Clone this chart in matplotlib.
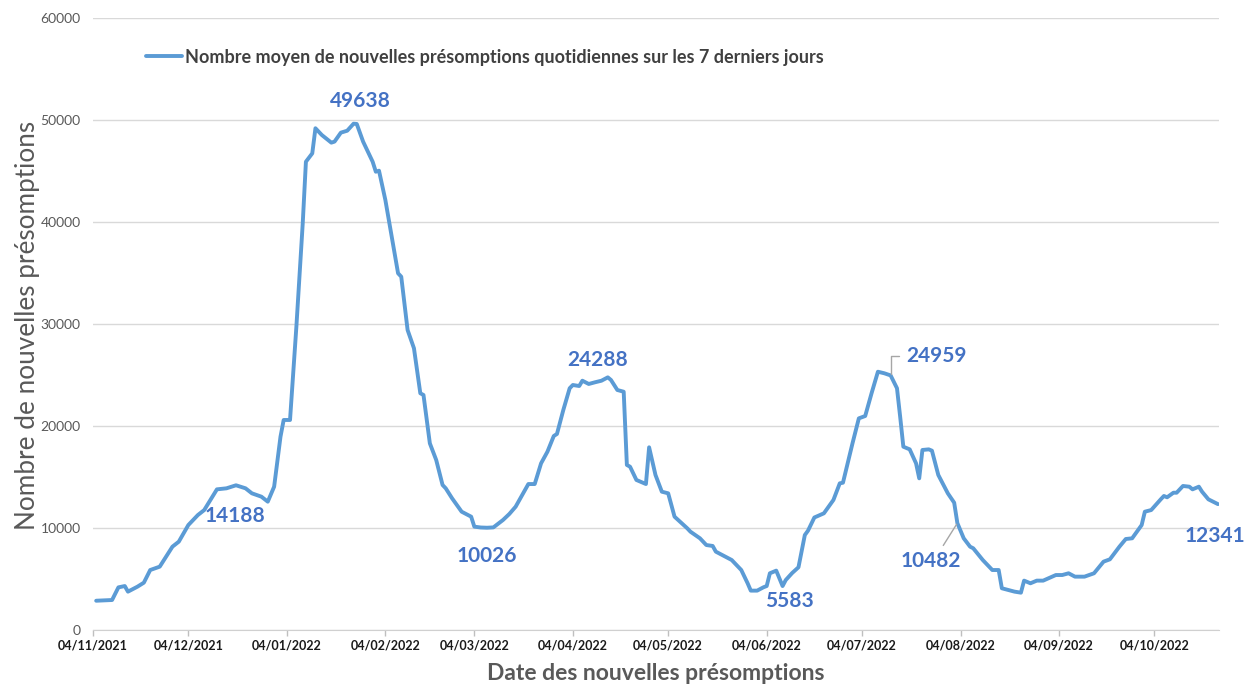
import pandas as pd
import matplotlib
matplotlib.use('Agg')
import matplotlib.pyplot as plt

plt.rcParams['font.family'] = ['Lato', 'DejaVu Sans']

# --- données ---
dates = [
    '2021-11-05', '2021-11-10', '2021-11-12', '2021-11-14', '2021-11-15', '2021-11-18',
    '2021-11-20', '2021-11-22', '2021-11-25', '2021-11-29', '2021-12-01', '2021-12-04',
    '2021-12-07', '2021-12-09', '2021-12-13', '2021-12-16', '2021-12-19', '2021-12-22',
    '2021-12-24', '2021-12-27', '2021-12-29', '2021-12-31', '2022-01-02', '2022-01-03',
    '2022-01-05', '2022-01-07', '2022-01-09', '2022-01-10', '2022-01-12', '2022-01-13',
    '2022-01-15', '2022-01-18', '2022-01-19', '2022-01-21', '2022-01-23', '2022-01-25',
    '2022-01-26', '2022-01-28', '2022-01-30', '2022-01-31', '2022-02-01', '2022-02-02',
    '2022-02-04', '2022-02-06', '2022-02-08', '2022-02-09', '2022-02-11', '2022-02-13',
    '2022-02-15', '2022-02-16', '2022-02-18', '2022-02-20', '2022-02-22', '2022-02-23',
    '2022-02-25', '2022-02-28', '2022-03-03', '2022-03-04', '2022-03-06', '2022-03-08',
    '2022-03-10', '2022-03-13', '2022-03-15', '2022-03-17', '2022-03-21', '2022-03-23',
    '2022-03-25', '2022-03-27', '2022-03-29', '2022-03-30', '2022-04-01', '2022-04-03',
    '2022-04-04', '2022-04-06', '2022-04-07', '2022-04-09', '2022-04-11', '2022-04-13',
    '2022-04-15', '2022-04-16', '2022-04-18', '2022-04-20', '2022-04-21', '2022-04-22',
    '2022-04-24', '2022-04-27', '2022-04-28', '2022-04-30', '2022-05-02', '2022-05-04',
    '2022-05-06', '2022-05-10', '2022-05-11', '2022-05-14', '2022-05-16', '2022-05-18',
    '2022-05-19', '2022-05-23', '2022-05-24', '2022-05-27', '2022-05-29', '2022-05-30',
    '2022-06-01', '2022-06-03', '2022-06-04', '2022-06-05', '2022-06-07', '2022-06-09',
    '2022-06-10', '2022-06-12', '2022-06-14', '2022-06-16', '2022-06-17', '2022-06-19',
    '2022-06-22', '2022-06-25', '2022-06-27', '2022-06-28', '2022-07-01', '2022-07-03',
    '2022-07-05', '2022-07-07', '2022-07-09', '2022-07-11', '2022-07-13', '2022-07-15',
    '2022-07-16', '2022-07-17', '2022-07-19', '2022-07-21', '2022-07-22', '2022-07-23',
    '2022-07-25', '2022-07-26', '2022-07-28', '2022-07-31', '2022-08-02', '2022-08-03',
    '2022-08-05', '2022-08-07', '2022-08-08', '2022-08-11', '2022-08-14', '2022-08-16',
    '2022-08-17', '2022-08-19', '2022-08-21', '2022-08-23', '2022-08-24', '2022-08-26',
    '2022-08-28', '2022-08-30', '2022-09-03', '2022-09-05', '2022-09-07', '2022-09-09',
    '2022-09-12', '2022-09-15', '2022-09-18', '2022-09-20', '2022-09-23', '2022-09-25',
    '2022-09-27', '2022-09-30', '2022-10-01', '2022-10-03', '2022-10-06', '2022-10-07',
    '2022-10-08', '2022-10-10', '2022-10-11', '2022-10-13', '2022-10-15', '2022-10-16',
    '2022-10-18', '2022-10-19', '2022-10-21', '2022-10-24',
]
values = [
    2870, 2940, 4180, 4310, 3760, 4250,
    4640, 5880, 6210, 8170, 8660, 10290,
    11270, 11760, 13790, 13890, 14188, 13890,
    13400, 13070, 12580, 14050, 18950, 20590,
    20590, 29740, 39870, 45910, 46730, 49190,
    48530, 47780, 47880, 48760, 48950, 49638,
    49610, 47880, 46570, 45910, 44930, 45030,
    42160, 38560, 34970, 34640, 29410, 27620,
    23210, 23040, 18300, 16670, 14220, 13890,
    12910, 11600, 11110, 10130, 10050, 10026,
    10060, 10780, 11370, 12090, 14310, 14310,
    16340, 17480, 19020, 19220, 21570, 23700,
    24020, 23920, 24440, 24120, 24288, 24440,
    24770, 24510, 23530, 23360, 16180, 16010,
    14710, 14310, 17910, 15200, 13560, 13400,
    11110, 9970, 9640, 8990, 8330, 8240,
    7680, 7030, 6860, 5880, 4580, 3860,
    3860, 4190, 4310, 5560, 5820, 4310,
    4900, 5583, 6150, 9310, 9740, 11030,
    11440, 12750, 14380, 14440, 18300, 20750,
    20980, 23210, 25320, 25170, 24959, 23700,
    20910, 17970, 17710, 16340, 14870, 17650,
    17710, 17580, 15200, 13400, 12480, 10482,
    8990, 8170, 8010, 6860, 5880, 5880,
    4090, 3920, 3760, 3660, 4840, 4580,
    4840, 4840, 5390, 5390, 5560, 5230,
    5230, 5560, 6700, 6930, 8170, 8920,
    8990, 10290, 11600, 11760, 12810, 13140,
    13010, 13460, 13460, 14120, 14050, 13790,
    14050, 13560, 12810, 12341,
]
tick_labels = ['04/11/2021', '04/12/2021', '04/01/2022', '04/02/2022', '04/03/2022', '04/04/2022',
               '04/05/2022', '04/06/2022', '04/07/2022', '04/08/2022', '04/09/2022', '04/10/2022']

# étiquettes affichées sur la courbe
label_dates = ['2021-12-19', '2022-01-25', '2022-03-08', '2022-04-11',
               '2022-06-12', '2022-07-13', '2022-08-03', '2022-10-24']
label_values = [14188, 49638, 10026, 24288, 5583, 24959, 10482, 12341]

legend_text = 'Nombre moyen de nouvelles présomptions quotidiennes sur les 7 derniers jours'

# décalage des étiquettes (points), et traits de rappel
label_offsets = [(-1, -22), (5, 16), (0, -20), (2, 16), (-2, -20), (11, 14), (-19, -27), (-2, -23)]
leader = [None, None, None, None, None, 'angle', 'line', None]

blue_line = '#5B9BD5'
blue_text = '#4472C4'
grey = '#595959'

x = pd.to_datetime(dates)
ticks = pd.to_datetime(tick_labels, dayfirst=True)

fig = plt.figure(figsize=(12.58, 6.91), dpi=100)
ax = fig.add_axes([93 / 1258, 1 - 630 / 691, (1219 - 93) / 1258, (630 - 18) / 691])

line, = ax.plot(x, values, color=blue_line, lw=2.8, solid_joinstyle='round',
                solid_capstyle='round', label=legend_text)

# axes
ax.set_ylim(0, 60000)
ax.set_yticks(range(0, 60001, 10000))
ax.set_xlim(ticks[0], x[-1] + pd.Timedelta(hours=8))
ax.set_xticks(ticks)
ax.set_xticklabels(tick_labels, fontweight='bold', fontsize=9, color='#1a1a1a')
ax.tick_params(axis='y', length=0, labelsize=10, labelcolor=grey, pad=9)
ax.tick_params(axis='x', length=4, color='#BFBFBF', width=1, pad=3)
ax.yaxis.grid(True, color='#D9D9D9', lw=1)
ax.set_axisbelow(True)
for s in ['top', 'right', 'left']:
    ax.spines[s].set_visible(False)
ax.spines['bottom'].set_color('#D0D0D0')

ax.set_xlabel('Date des nouvelles présomptions', fontsize=16.5, fontweight='bold', color=grey, labelpad=8)
fig.text(28 / 1258, 1 - 325 / 691, 'Nombre de nouvelles présomptions', rotation=90,
         fontsize=18.8, color=grey, ha='center', va='center')

# légende en haut
fig.legend(handles=[line], loc='center left', bbox_to_anchor=(146 / 1258, 1 - 57 / 691),
           frameon=False, borderpad=0, borderaxespad=0, handlelength=2.0, handletextpad=0.15,
           prop={'size': 13, 'weight': 'bold'}, labelcolor='#404040')

# étiquettes de valeurs
for d, v, off, ld in zip(label_dates, label_values, label_offsets, leader):
    kw = dict(textcoords='offset points', xytext=off, fontsize=15, fontweight='bold',
              color=blue_text, ha='center', va='center', annotation_clip=False)
    if ld == 'angle':
        kw['ha'] = 'left'
        kw['arrowprops'] = dict(arrowstyle='-', color='#A6A6A6', lw=1, shrinkA=3, shrinkB=1,
                                relpos=(0, 0.5), connectionstyle='angle,angleA=0,angleB=90,rad=0')
    elif ld == 'line':
        kw['arrowprops'] = dict(arrowstyle='-', color='#A6A6A6', lw=1, shrinkA=2, shrinkB=1,
                                relpos=(0.65, 1))
    ax.annotate(str(v), xy=(pd.Timestamp(d), v), **kw)

fig.savefig('out.png', dpi=100)
